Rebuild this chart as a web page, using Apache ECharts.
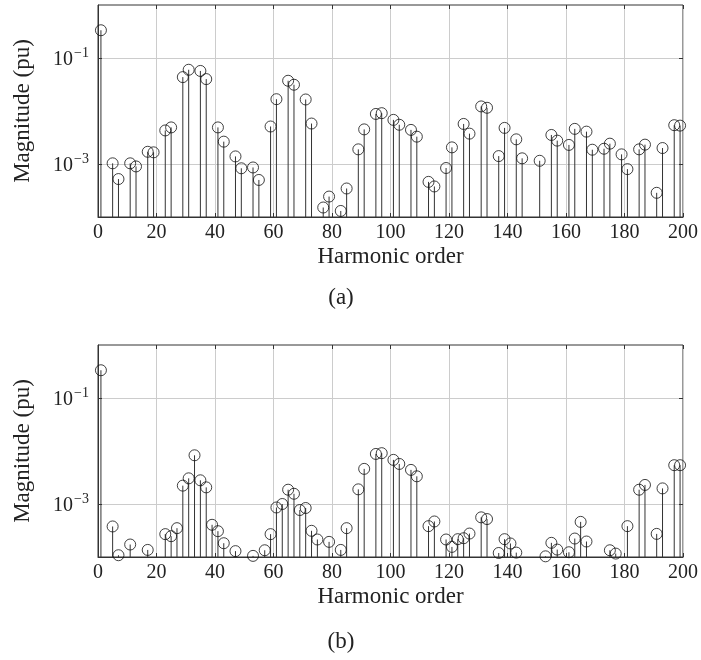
<!DOCTYPE html>
<html lang="en">
<head>
	<meta charset="UTF-8">
	<title>Harmonic spectrum</title>
	<style>
		*{
			margin: 0;
			padding: 0;
		}
		body{
			background: #fff;
		}
		.box{
			width: 701px;
			height: 660px;
		}
	</style>
	<script src="https://cdn.jsdelivr.net/npm/echarts@6/dist/echarts.min.js"></script>
</head>
<body>
	<div class="box"></div>
	<script>
		// (a) harmonic orders and magnitudes
		var harmonicsA = [1,5,7,11,13,17,19,23,25,29,31,35,37,41,43,47,49,53,55,59,61,65,67,71,73,77,79,83,85,89,91,95,97,101,103,107,109,113,115,119,121,125,127,131,133,137,139,143,145,151,155,157,161,163,167,169,173,175,179,181,185,187,191,193,197,199];
		var magnitudeA = [0.334,1.03e-3,5.2e-4,1.03e-3,9.0e-4,1.7e-3,1.66e-3,4.3e-3,4.9e-3,0.0436,0.060,0.057,0.040,4.9e-3,2.64e-3,1.39e-3,8.3e-4,8.6e-4,5.0e-4,5.1e-3,0.0167,0.0372,0.0313,0.0165,5.8e-3,1.51e-4,2.43e-4,1.30e-4,3.45e-4,1.89e-3,4.5e-3,8.8e-3,9.1e-3,6.8e-3,5.5e-3,4.4e-3,3.28e-3,4.6e-4,3.77e-4,8.4e-4,2.06e-3,5.7e-3,3.74e-3,0.0122,0.0115,1.41e-3,4.8e-3,2.92e-3,1.28e-3,1.15e-3,3.53e-3,2.76e-3,2.29e-3,4.6e-3,4.08e-3,1.86e-3,1.94e-3,2.42e-3,1.52e-3,8.0e-4,1.89e-3,2.32e-3,2.86e-4,2.0e-3,5.4e-3,5.3e-3];
		// (b) harmonic orders and magnitudes
		var harmonicsB = [1,5,7,11,17,23,25,27,29,31,33,35,37,39,41,43,47,53,57,59,61,63,65,67,69,71,73,75,79,83,85,89,91,95,97,101,103,107,109,113,115,119,121,123,125,127,131,133,137,139,141,143,153,155,157,161,163,165,167,175,177,181,185,187,191,193,197,199];
		var magnitudeB = [0.334,3.77e-4,1.08e-4,1.72e-4,1.36e-4,2.7e-4,2.47e-4,3.5e-4,2.22e-3,3.05e-3,8.3e-3,2.8e-3,2.06e-3,4.05e-4,3.07e-4,1.82e-4,1.29e-4,1.05e-4,1.34e-4,2.7e-4,8.6e-4,1.0e-3,1.86e-3,1.56e-3,7.7e-4,8.4e-4,3.12e-4,2.14e-4,1.93e-4,1.36e-4,3.5e-4,1.89e-3,4.6e-3,8.8e-3,9.1e-3,6.8e-3,5.7e-3,4.4e-3,3.33e-3,3.82e-4,4.68e-4,2.14e-4,1.55e-4,2.17e-4,2.26e-4,2.77e-4,5.6e-4,5.2e-4,1.19e-4,2.17e-4,1.80e-4,1.21e-4,1.03e-4,1.85e-4,1.38e-4,1.23e-4,2.23e-4,4.6e-4,1.96e-4,1.34e-4,1.16e-4,3.82e-4,1.86e-3,2.29e-3,2.73e-4,1.97e-3,5.4e-3,5.4e-3];
		// axes
		var yMin = 1e-4, yMax = 1;
		var yTickValues = [1e-3, 1e-1];
		var xMin = 0, xMax = 200, xStep = 20;
		var captions = ['(a)', '(b)'];

		var font = '"Liberation Serif", serif';
		var ink = '#222';
		var chart = echarts.init(document.querySelector('.box'));

		function pairs(xs, ys) {
			return xs.map((x, i) => [x, ys[i]]);
		}

		function isYTick(v) {
			return yTickValues.some(t => Math.abs(Math.log10(v) - Math.log10(t)) < 1e-6);
		}

		var grids = [
			{left: 98, right: 18, top: 5, height: 212, show: true, borderColor: '#333', borderWidth: 1},
			{left: 98, right: 18, top: 345, height: 212, show: true, borderColor: '#333', borderWidth: 1}
		];

		var xAxes = [], yAxes = [], series = [];
		[0, 1].forEach(g => {
			xAxes.push({
				type: 'value', gridIndex: g, min: xMin, max: xMax, interval: xStep,
				name: 'Harmonic order', nameLocation: 'middle', nameGap: 28,
				nameTextStyle: {fontFamily: font, fontSize: 23, color: ink},
				axisLine: {lineStyle: {color: '#333'}},
				axisTick: {inside: true, length: 4, lineStyle: {color: '#333'}},
				axisLabel: {fontFamily: font, fontSize: 20, color: ink, margin: 6},
				splitLine: {show: true, lineStyle: {color: '#ccc', width: 1}}
			});
			xAxes.push({
				type: 'value', gridIndex: g, min: xMin, max: xMax, interval: xStep, position: 'top',
				axisLine: {show: false},
				axisTick: {inside: true, length: 4, lineStyle: {color: '#333'}},
				axisLabel: {show: false},
				splitLine: {show: false}
			});
			yAxes.push({
				type: 'log', logBase: 10, gridIndex: g, min: yMin, max: yMax,
				name: 'Magnitude (pu)', nameLocation: 'middle', nameGap: 64, nameRotate: 90,
				nameTextStyle: {fontFamily: font, fontSize: 23, color: ink},
				axisLine: {show: true, lineStyle: {color: '#333'}},
				axisTick: {show: false},
				splitLine: {show: false},
				axisLabel: {
					margin: 9,
					formatter: function (v) {
						if (!isYTick(v)) return '';
						var e = Math.round(Math.log10(v));
						return '{b|10}{s|' + (e < 0 ? '\u2212' + (-e) : e) + '}';
					},
					rich: {
						b: {fontFamily: font, fontSize: 20, color: ink, verticalAlign: 'bottom'},
						s: {fontFamily: font, fontSize: 14, color: ink, verticalAlign: 'top', padding: [0, 0, 10, 1]}
					}
				}
			});
			var xi = g * 2, yi = g;
			// horizontal grid lines (and inner ticks) at the labelled decades
			series.push({
				type: 'custom', xAxisIndex: xi, yAxisIndex: yi, z: 1, silent: true,
				data: yTickValues.map(t => [xMin, t]),
				encode: {x: 0, y: 1},
				renderItem: function (params, api) {
					var a = api.coord([xMin, api.value(1)]);
					var b = api.coord([xMax, api.value(1)]);
					var y = Math.round(a[1]) + 0.5;
					return {
						type: 'group',
						children: [
							{type: 'line', shape: {x1: a[0], y1: y, x2: b[0], y2: y}, style: {stroke: '#ccc', lineWidth: 1}},
							{type: 'line', shape: {x1: a[0], y1: y, x2: a[0] + 4, y2: y}, style: {stroke: '#333', lineWidth: 1}},
							{type: 'line', shape: {x1: b[0] - 4, y1: y, x2: b[0], y2: y}, style: {stroke: '#333', lineWidth: 1}}
						]
					};
				}
			});
			var data = g === 0 ? pairs(harmonicsA, magnitudeA) : pairs(harmonicsB, magnitudeB);
			// stems
			series.push({
				type: 'custom', xAxisIndex: xi, yAxisIndex: yi, z: 2, data: data,
				encode: {x: 0, y: 1},
				renderItem: function (params, api) {
					var top = api.coord([api.value(0), api.value(1)]);
					var base = api.coord([api.value(0), yMin]);
					return {
						type: 'line',
						shape: {x1: top[0], y1: base[1], x2: top[0], y2: top[1]},
						style: {stroke: '#333', lineWidth: 1}
					};
				}
			});
			// circle markers
			series.push({
				type: 'scatter', xAxisIndex: xi, yAxisIndex: yi, z: 3, data: data,
				symbol: 'circle', symbolSize: 11,
				itemStyle: {color: 'rgba(0,0,0,0)', borderColor: '#111', borderWidth: 1}
			});
		});

		var option = {
			animation: false,
			backgroundColor: '#fff',
			grid: grids,
			xAxis: xAxes,
			yAxis: yAxes,
			series: series,
			graphic: [
				{type: 'text', x: 341, y: 298, style: {text: captions[0], fontFamily: font, fontSize: 23, fill: ink, align: 'center', verticalAlign: 'middle'}},
				{type: 'text', x: 341, y: 642, style: {text: captions[1], fontFamily: font, fontSize: 23, fill: ink, align: 'center', verticalAlign: 'middle'}}
			]
		};
		chart.setOption(option);
	</script>
</body>
</html>
